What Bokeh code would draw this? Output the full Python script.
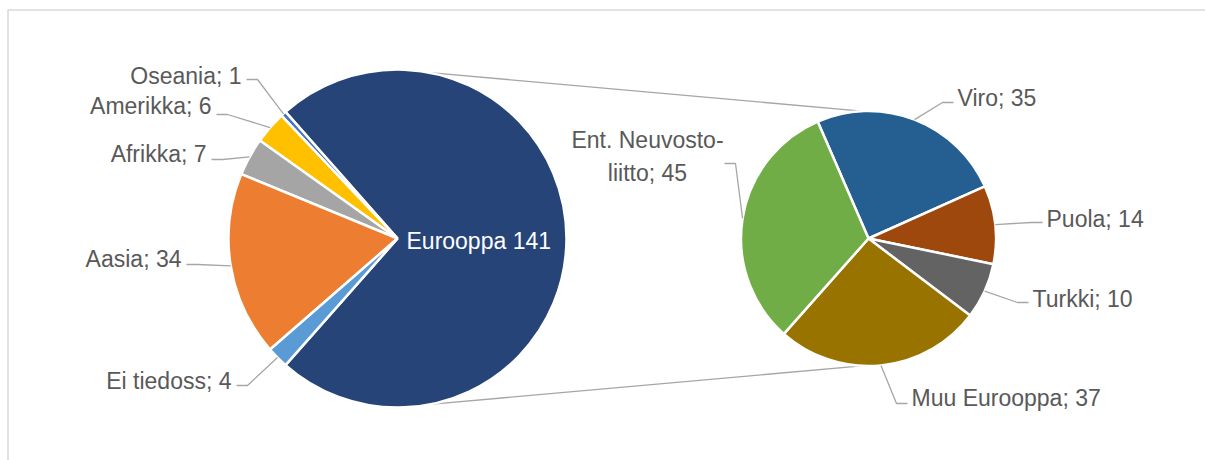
import numpy as np
from bokeh.plotting import figure
from bokeh.models import ColumnDataSource, Range1d
from bokeh.embed import file_html
from bokeh.resources import INLINE
from bokeh.core.properties import value

# ---------------- data ----------------
left_labels = ["Eurooppa", "Oseania", "Amerikka", "Afrikka", "Aasia", "Ei tiedoss"]
left_values = [141, 1, 6, 7, 34, 4]

right_labels = ["Viro", "Puola", "Turkki", "Muu Eurooppa", "Ent. Neuvosto-\nliitto"]
right_values = [35, 14, 10, 37, 45]

# ---------------- styles ----------------
left_colors = ["#264478", "#4472C4", "#FFC000", "#A5A5A5", "#ED7D31", "#5B9BD5"]
right_colors = ["#255E91", "#9E480E", "#636363", "#997300", "#70AD47"]
TXT = "#595959"
LEAD = "#A6A6A6"
FONT = value("Liberation Sans")
FSIZE = "23px"

# ---------------- layout (page pixel coords) ----------------
W, H = 1205, 460
OX, OY = 0, 0
L_CX, L_CY, L_R = 397, 238, 169
R_CX, R_CY, R_R = 868, 238, 127.5
R_START_DEG = 113.5
CONN_L_DEG, CONN_R_DEG = 79, 93

# label anchor (x, y, align), leader start (x, y), elbow direction
left_lab_pos = [(406, 240, "left"), (241, 75, "right"), (211, 105, "right"),
                (206, 153, "right"), (181, 258, "right"), (231, 380, "right")]
left_lead = [None, (246, 79, 1), (216, 114, 1), (211, 159, 1), (186, 264, 1), (236, 385, 1)]
right_lab_pos = [(957, 97, "left"), (1046, 218, "left"), (1032, 298, "left"),
                 (911, 397, "left"), (647, 156, "center")]
right_lead = [(953, 102, -1), (1042, 222, -1), (1028, 302, -1), (907, 403, -1), (724, 163, 1)]
ELBOW = 11


def Y(py):
    return -py


p = figure(width=W, height=H, x_range=Range1d(OX, OX + W), y_range=Range1d(-(OY + H), -OY),
           output_backend="svg", toolbar_location=None, min_border=0)
p.axis.visible = False
p.grid.visible = False
p.outline_line_color = None
p.background_fill_color = "white"
p.border_fill_color = "white"

# chart frame (top and left edges visible in the window)
p.line([7.5, 7.5, OX + W], [Y(OY + H), Y(9.5), Y(9.5)], line_color="#D9D9D9", line_width=1.5)

# ---------------- left pie ----------------
lv = np.array(left_values, dtype=float)
lf = lv / lv.sum() * 2 * np.pi
ls, le = [], []
a = -lf[0] / 2
for f in lf:
    ls.append(a)
    le.append(a + f)
    a += f
ls, le = np.array(ls), np.array(le)
lmid = (ls + le) / 2

# ---------------- right pie ----------------
rv = np.array(right_values, dtype=float)
rf = rv / rv.sum() * 2 * np.pi
rs, re_ = [], []
a = np.radians(R_START_DEG)
for f in rf:
    re_.append(a)
    rs.append(a - f)
    a -= f
rs, re_ = np.array(rs), np.array(re_)
rmid = (rs + re_) / 2

# connector lines between pies
for sgn in (1, -1):
    al = np.radians(CONN_L_DEG) * sgn
    ar = np.radians(CONN_R_DEG) * sgn
    x0 = L_CX + L_R * np.cos(al)
    y0 = L_CY - L_R * np.sin(al)
    x1 = R_CX + R_R * np.cos(ar)
    y1 = R_CY - R_R * np.sin(ar)
    p.line([x0, x1], [Y(y0), Y(y1)], line_color=LEAD, line_width=1.3)

lsrc = ColumnDataSource(dict(start=ls, end=le, color=left_colors))
p.wedge(x=L_CX, y=Y(L_CY), radius=L_R, start_angle="start", end_angle="end",
        fill_color="color", line_color="white", line_width=2.5, source=lsrc)

rsrc = ColumnDataSource(dict(start=rs, end=re_, color=right_colors))
p.wedge(x=R_CX, y=Y(R_CY), radius=R_R, start_angle="start", end_angle="end",
        fill_color="color", line_color="white", line_width=2.5, source=rsrc)


def draw_labels(labels, values, mids, cx, cy, r, pos, leads, first_inside=False):
    for i, (lab, val) in enumerate(zip(labels, values)):
        x, y, align = pos[i]
        if first_inside and i == 0:
            txt = f"{lab} {val}"
            col = "white"
        else:
            txt = f"{lab}; {val}"
            col = TXT
        p.text(x=[x], y=[Y(y)], text=[txt], text_align=align, text_baseline="middle",
               text_font=FONT, text_font_size=FSIZE, text_color=col, text_line_height=1.25)
        ld = leads[i]
        if ld is None:
            continue
        sx, sy, d = ld
        ex = sx + d * ELBOW
        px = cx + r * np.cos(mids[i])
        py = cy - r * np.sin(mids[i])
        p.line([sx, ex, px], [Y(sy), Y(sy), Y(py)], line_color=LEAD, line_width=1.3)


draw_labels(left_labels, left_values, lmid, L_CX, L_CY, L_R, left_lab_pos, left_lead, first_inside=True)
draw_labels(right_labels, right_values, rmid, R_CX, R_CY, R_R, right_lab_pos, right_lead)

open("out.html", "w").write(file_html(p, INLINE))
